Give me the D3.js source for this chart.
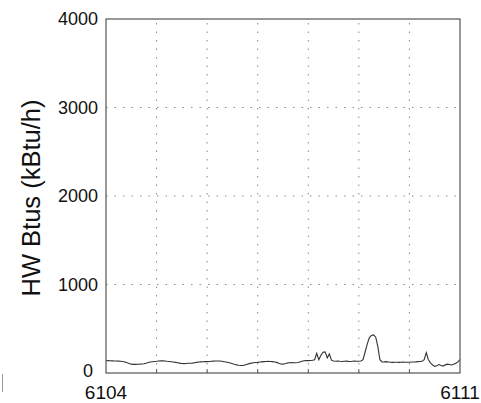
<!DOCTYPE html>
<html>
<head>
<meta charset="utf-8">
<script src="https://cdn.jsdelivr.net/npm/d3@7"></script>
<style>
body{margin:0;background:#fff;}
</style>
</head>
<body>
<div id="chart"></div>
<script>
// hourly hot water Btus, days 6104..6111
var dayTicks = [6104,6105,6106,6107,6108,6109,6110,6111];
var yTicks = [0,1000,2000,3000,4000];
var hwBtus = [
    138,140,139,137,135,136,134,132,130,125,115,108,100,98,97,99,100,102,105,110,118,124,128,130,
    132,136,138,137,135,132,130,127,124,120,116,112,108,106,108,110,110,112,116,120,124,126,127,128,
    128,130,132,134,135,136,135,132,128,124,118,112,105,98,92,88,85,86,90,98,106,112,116,119,
    120,124,126,128,130,131,130,128,125,120,110,102,100,104,112,116,117,116,115,118,125,132,138,142,
    140,142,144,150,222,150,200,235,238,170,215,145,135,133,136,132,130,132,134,131,130,132,134,133,
    132,136,150,240,330,400,425,430,405,300,150,125,126,128,125,122,120,122,121,120,122,124,122,121,
    122,124,125,126,128,130,132,150,230,150,115,90,75,82,95,85,78,92,100,96,90,98,110,125,
    150
];

var width = 481, height = 403;
var margin = {left:106, right:21, top:19, bottom:30};

var svg = d3.select("#chart")
    .append("svg")
    .attr("width",width)
    .attr("height",height)
    .attr("font-family","'Liberation Sans', Arial, sans-serif");

var x = d3.scaleLinear()
    .domain([6104,6111])
    .range([margin.left,width-margin.right]);
var y = d3.scaleLinear()
    .domain([0,4000])
    .range([height-margin.bottom,margin.top]);

// dotted grid
svg.append("g")
    .selectAll("line")
    .data(yTicks.slice(1,-1))
    .enter()
    .append("line")
    .attr("x1",x(6104)).attr("x2",x(6111))
    .attr("y1",d=>y(d)).attr("y2",d=>y(d))
    .attr("stroke","#8a8a8a")
    .attr("stroke-width",1)
    .attr("stroke-dasharray","1.5,7");
svg.append("g")
    .selectAll("line")
    .data(dayTicks.slice(1,-1))
    .enter()
    .append("line")
    .attr("x1",d=>x(d)).attr("x2",d=>x(d))
    .attr("y1",y(0)).attr("y2",y(4000))
    .attr("stroke","#8a8a8a")
    .attr("stroke-width",1)
    .attr("stroke-dasharray","1.5,7");

// small inner ticks on the bottom
svg.append("g")
    .selectAll("line")
    .data(dayTicks.slice(1,-1))
    .enter()
    .append("line")
    .attr("x1",d=>x(d)).attr("x2",d=>x(d))
    .attr("y1",y(0)).attr("y2",y(0)-4)
    .attr("stroke","#555");

// data line
var line = d3.line()
    .x((d,i)=>x(6104+i/24))
    .y(d=>y(d));
svg.append("path")
    .datum(hwBtus)
    .attr("fill","none")
    .attr("stroke","#333")
    .attr("stroke-width",1.1)
    .attr("d",line);

// frame
svg.append("rect")
    .attr("x",x(6104))
    .attr("y",y(4000))
    .attr("width",x(6111)-x(6104))
    .attr("height",y(0)-y(4000))
    .attr("fill","none")
    .attr("stroke","#555")
    .attr("stroke-width",1.2);

// y tick labels
svg.append("g")
    .selectAll("text")
    .data(yTicks)
    .enter()
    .append("text")
    .attr("x",d=>d===0?93:98)
    .attr("y",d=>d===0?y(d)-2:y(d))
    .attr("dy","0.36em")
    .attr("text-anchor","end")
    .attr("font-size",18)
    .attr("fill","#111")
    .text(d=>d);

// x tick labels, only the ends
svg.append("g")
    .selectAll("text")
    .data([6104,6111])
    .enter()
    .append("text")
    .attr("x",d=>x(d))
    .attr("y",399)
    .attr("text-anchor","middle")
    .attr("font-size",19)
    .attr("fill","#111")
    .text(d=>d);

svg.append("text")
    .attr("transform","translate(40,198)rotate(-90)")
    .attr("text-anchor","middle")
    .attr("font-size",25.5)
    .attr("fill","#111")
    .text("HW Btus (kBtu/h)");

// scan mark at the lower left
svg.append("line")
    .attr("x1",2.5).attr("x2",2.5)
    .attr("y1",374).attr("y2",392)
    .attr("stroke","#999");
</script>
</body>
</html>
